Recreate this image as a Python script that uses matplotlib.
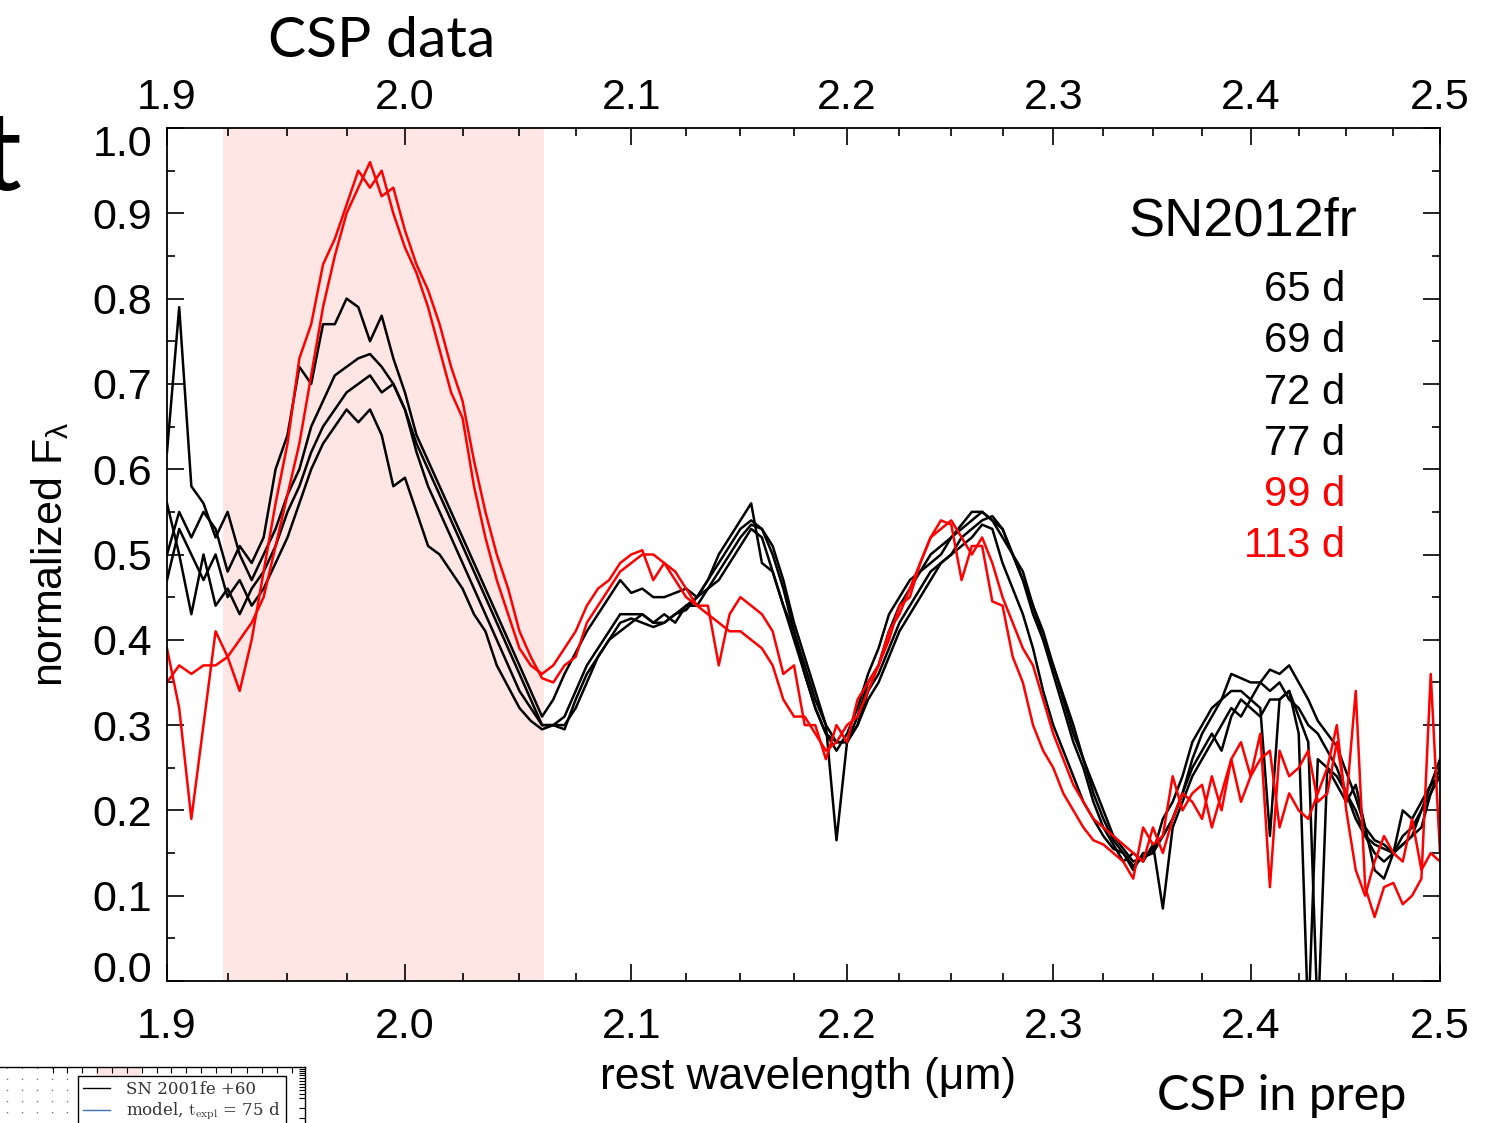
import matplotlib
matplotlib.use("Agg")
import matplotlib.pyplot as plt
from matplotlib.ticker import FixedLocator, FixedFormatter, NullFormatter, NullLocator
from matplotlib.transforms import ScaledTranslation
from matplotlib.lines import Line2D

# rest wavelength sampling (micron)
wave = [1.900, 1.905, 1.910, 1.915, 1.920, 1.925, 1.930, 1.935, 1.940, 1.945,
        1.950, 1.955, 1.960, 1.965, 1.970, 1.975, 1.980, 1.985, 1.990, 1.995,
        2.000, 2.005, 2.010, 2.015, 2.020, 2.025, 2.030, 2.035, 2.040, 2.045,
        2.050, 2.055, 2.060, 2.065, 2.070, 2.075, 2.080, 2.085, 2.090, 2.095,
        2.100, 2.105, 2.110, 2.115, 2.120, 2.125, 2.130, 2.135, 2.140, 2.145,
        2.150, 2.155, 2.160, 2.165, 2.170, 2.175, 2.180, 2.185, 2.190, 2.195,
        2.200, 2.205, 2.210, 2.215, 2.220, 2.225, 2.230, 2.235, 2.240, 2.245,
        2.250, 2.255, 2.260, 2.265, 2.270, 2.275, 2.280, 2.285, 2.290, 2.295,
        2.300, 2.305, 2.310, 2.315, 2.320, 2.325, 2.330, 2.335, 2.340, 2.345,
        2.350, 2.355, 2.360, 2.365, 2.370, 2.375, 2.380, 2.385, 2.390, 2.395,
        2.400, 2.405, 2.410, 2.415, 2.420, 2.425, 2.430, 2.435, 2.440, 2.445,
        2.450, 2.455, 2.460, 2.465, 2.470, 2.475, 2.480, 2.485, 2.490, 2.495,
        2.500]

# normalized F_lambda
flux_65 = [0.47, 0.53, 0.50, 0.47, 0.50, 0.45, 0.47, 0.44, 0.46, 0.49,
           0.52, 0.56, 0.60, 0.63, 0.65, 0.67, 0.655, 0.67, 0.64, 0.58,
           0.59, 0.55, 0.51, 0.50, 0.48, 0.46, 0.43, 0.41, 0.37, 0.345,
           0.32, 0.305, 0.295, 0.30, 0.30, 0.32, 0.35, 0.38, 0.40, 0.41,
           0.42, 0.43, 0.42, 0.43, 0.42, 0.44, 0.44, 0.46, 0.47, 0.49,
           0.51, 0.53, 0.52, 0.48, 0.44, 0.40, 0.36, 0.32, 0.29, 0.28,
           0.28, 0.30, 0.33, 0.35, 0.38, 0.41, 0.43, 0.45, 0.47, 0.49,
           0.50, 0.51, 0.52, 0.535, 0.53, 0.49, 0.46, 0.43, 0.39, 0.34,
           0.30, 0.27, 0.24, 0.21, 0.19, 0.17, 0.155, 0.15, 0.13, 0.15,
           0.15, 0.17, 0.19, 0.22, 0.26, 0.29, 0.31, 0.33, 0.34, 0.34,
           0.33, 0.35, 0.34, 0.35, 0.33, 0.32, 0.30, 0.29, 0.27, 0.25,
           0.22, 0.19, 0.17, 0.16, 0.155, 0.15, 0.16, 0.17, 0.20, 0.23,
           0.26]
flux_69 = [0.56, 0.50, 0.43, 0.50, 0.44, 0.46, 0.43, 0.46, 0.48, 0.51,
           0.55, 0.58, 0.62, 0.65, 0.67, 0.69, 0.70, 0.71, 0.69, 0.70,
           0.67, 0.62, 0.58, 0.55, 0.52, 0.49, 0.46, 0.43, 0.40, 0.37,
           0.34, 0.32, 0.30, 0.30, 0.295, 0.33, 0.36, 0.38, 0.40, 0.42,
           0.425, 0.42, 0.415, 0.42, 0.43, 0.435, 0.45, 0.46, 0.48, 0.50,
           0.52, 0.535, 0.53, 0.51, 0.47, 0.42, 0.38, 0.34, 0.30, 0.165,
           0.28, 0.30, 0.34, 0.36, 0.39, 0.42, 0.44, 0.46, 0.48, 0.49,
           0.50, 0.52, 0.53, 0.54, 0.545, 0.53, 0.50, 0.48, 0.44, 0.40,
           0.36, 0.32, 0.28, 0.25, 0.21, 0.18, 0.16, 0.14, 0.15, 0.14,
           0.16, 0.085, 0.18, 0.21, 0.24, 0.26, 0.28, 0.30, 0.32, 0.31,
           0.33, 0.32, 0.17, 0.33, 0.34, 0.29, -0.05, 0.26, 0.25, 0.24,
           0.22, 0.20, 0.17, 0.15, 0.14, 0.15, 0.17, 0.18, 0.20, 0.22,
           0.24]
flux_72 = [0.62, 0.79, 0.58, 0.56, 0.52, 0.55, 0.50, 0.47, 0.50, 0.53,
           0.57, 0.60, 0.65, 0.68, 0.71, 0.72, 0.73, 0.735, 0.72, 0.70,
           0.67, 0.63, 0.60, 0.57, 0.54, 0.51, 0.48, 0.45, 0.42, 0.39,
           0.36, 0.33, 0.30, 0.30, 0.31, 0.34, 0.37, 0.39, 0.41, 0.43,
           0.43, 0.43, 0.42, 0.42, 0.43, 0.44, 0.45, 0.47, 0.49, 0.51,
           0.53, 0.54, 0.53, 0.50, 0.46, 0.41, 0.37, 0.33, 0.30, 0.28,
           0.28, 0.31, 0.35, 0.37, 0.41, 0.44, 0.46, 0.48, 0.49, 0.50,
           0.52, 0.53, 0.54, 0.55, 0.54, 0.53, 0.50, 0.47, 0.44, 0.41,
           0.37, 0.335, 0.30, 0.26, 0.23, 0.20, 0.17, 0.155, 0.14, 0.145,
           0.155, 0.17, 0.19, 0.22, 0.25, 0.27, 0.29, 0.27, 0.31, 0.33,
           0.32, 0.31, 0.33, 0.33, 0.34, 0.31, 0.28, -0.05, 0.25, 0.23,
           0.21, 0.23, 0.18, 0.13, 0.12, 0.15, 0.20, 0.19, 0.21, 0.23,
           0.24]
flux_77 = [0.50, 0.55, 0.52, 0.55, 0.53, 0.48, 0.51, 0.49, 0.52, 0.60,
           0.64, 0.72, 0.70, 0.77, 0.77, 0.80, 0.79, 0.75, 0.78, 0.73,
           0.69, 0.64, 0.61, 0.58, 0.55, 0.52, 0.49, 0.46, 0.43, 0.40,
           0.37, 0.34, 0.31, 0.33, 0.36, 0.385, 0.41, 0.43, 0.45, 0.47,
           0.455, 0.46, 0.45, 0.45, 0.455, 0.46, 0.45, 0.47, 0.50, 0.52,
           0.54, 0.56, 0.49, 0.48, 0.44, 0.41, 0.36, 0.32, 0.29, 0.27,
           0.29, 0.32, 0.36, 0.39, 0.43, 0.45, 0.47, 0.48, 0.50, 0.51,
           0.52, 0.535, 0.55, 0.55, 0.54, 0.52, 0.50, 0.47, 0.43, 0.40,
           0.37, 0.33, 0.29, 0.26, 0.22, 0.19, 0.165, 0.15, 0.135, 0.145,
           0.15, 0.19, 0.21, 0.24, 0.28, 0.30, 0.32, 0.33, 0.36, 0.355,
           0.35, 0.35, 0.365, 0.36, 0.37, 0.35, 0.33, 0.305, 0.29, 0.275,
           0.245, 0.215, 0.18, 0.165, 0.16, 0.15, 0.16, 0.17, 0.18, 0.22,
           0.25]
flux_99 = [0.39, 0.32, 0.19, 0.30, 0.41, 0.38, 0.34, 0.40, 0.48, 0.56,
           0.63, 0.73, 0.77, 0.84, 0.87, 0.91, 0.95, 0.93, 0.95, 0.90,
           0.86, 0.83, 0.79, 0.74, 0.69, 0.66, 0.58, 0.52, 0.47, 0.43,
           0.39, 0.37, 0.36, 0.37, 0.39, 0.41, 0.44, 0.46, 0.47, 0.49,
           0.50, 0.505, 0.47, 0.49, 0.48, 0.46, 0.44, 0.44, 0.37, 0.43,
           0.45, 0.44, 0.43, 0.41, 0.36, 0.37, 0.30, 0.30, 0.26, 0.30,
           0.28, 0.33, 0.35, 0.37, 0.40, 0.44, 0.45, 0.49, 0.52, 0.54,
           0.535, 0.47, 0.51, 0.51, 0.445, 0.44, 0.38, 0.35, 0.30, 0.27,
           0.25, 0.22, 0.20, 0.18, 0.165, 0.16, 0.15, 0.14, 0.12, 0.18,
           0.16, 0.17, 0.24, 0.20, 0.22, 0.23, 0.18, 0.22, 0.26, 0.28,
           0.24, 0.29, 0.11, 0.27, 0.24, 0.25, 0.27, 0.21, 0.22, 0.28,
           0.21, 0.34, 0.11, 0.075, 0.11, 0.115, 0.09, 0.10, 0.12, 0.36,
           0.15]
flux_113 = [0.35, 0.37, 0.36, 0.37, 0.37, 0.38, 0.40, 0.42, 0.45, 0.51,
            0.57, 0.63, 0.71, 0.79, 0.85, 0.90, 0.93, 0.96, 0.92, 0.93,
            0.88, 0.84, 0.81, 0.77, 0.72, 0.68, 0.61, 0.55, 0.50, 0.46,
            0.41, 0.38, 0.355, 0.35, 0.37, 0.38, 0.42, 0.44, 0.46, 0.48,
            0.49, 0.50, 0.50, 0.49, 0.47, 0.45, 0.44, 0.43, 0.42, 0.41,
            0.41, 0.40, 0.39, 0.37, 0.33, 0.31, 0.31, 0.29, 0.27, 0.28,
            0.30, 0.31, 0.34, 0.37, 0.41, 0.43, 0.46, 0.49, 0.52, 0.53,
            0.54, 0.52, 0.50, 0.52, 0.49, 0.45, 0.42, 0.39, 0.37, 0.33,
            0.29, 0.26, 0.23, 0.21, 0.19, 0.18, 0.17, 0.16, 0.15, 0.14,
            0.18, 0.15, 0.19, 0.22, 0.21, 0.19, 0.24, 0.20, 0.26, 0.21,
            0.24, 0.26, 0.27, 0.18, 0.22, 0.20, 0.19, 0.22, 0.25, 0.30,
            0.20, 0.13, 0.10, 0.14, 0.17, 0.15, 0.14, 0.19, 0.13, 0.15,
            0.14]

epochs = ["65 d", "69 d", "72 d", "77 d", "99 d", "113 d"]
spectra = [flux_65, flux_69, flux_72, flux_77, flux_99, flux_113]
colors = ["black", "black", "black", "black", "red", "red"]

band = (1.923, 2.061)
major_x = [1.9, 2.0, 2.1, 2.2, 2.3, 2.4, 2.5]
minor_x = [1.925, 1.95, 1.975, 2.025, 2.05, 2.075, 2.125, 2.15, 2.175,
           2.225, 2.25, 2.275, 2.325, 2.35, 2.375, 2.425, 2.45, 2.475]
major_y = [0.0, 0.1, 0.2, 0.3, 0.4, 0.5, 0.6, 0.7, 0.8, 0.9, 1.0]
minor_y = [0.05, 0.15, 0.25, 0.35, 0.45, 0.55, 0.65, 0.75, 0.85, 0.95]

plt.rcParams['font.family'] = ['Liberation Sans', 'DejaVu Sans']
plt.rcParams['mathtext.fontset'] = 'custom'
plt.rcParams['mathtext.rm'] = 'Liberation Sans'
plt.rcParams['mathtext.it'] = 'Liberation Sans:italic'
plt.rcParams['mathtext.default'] = 'rm'

W, H = 1502, 1123
fig = plt.figure(figsize=(W / 100, H / 100), dpi=100)
ax = fig.add_axes([167 / W, (H - 981) / H, 1273 / W, 853 / H])

ax.axvspan(band[0], band[1], color='#fde6e3', lw=0, zorder=0)
for flux, col in zip(spectra, colors):
    ax.plot(wave, flux, color=col, lw=1.8, zorder=2)

ax.set_xscale('log')
ax.set_xlim(1.9, 2.5)
ax.set_ylim(0, 1)

# top tick labels on a twin axis
axt = ax.twiny()
axt.set_xscale('log')
axt.set_xlim(1.9, 2.5)
axt.xaxis.set_major_locator(FixedLocator(major_x))
axt.xaxis.set_major_formatter(FixedFormatter([f"{v:.1f}" for v in major_x]))
axt.xaxis.set_minor_locator(NullLocator())
axt.xaxis.set_minor_formatter(NullFormatter())
axt.tick_params(axis='x', length=0, labelsize=31, pad=7)
for s in axt.spines.values():
    s.set_visible(False)

ax.xaxis.set_major_locator(FixedLocator(major_x))
ax.xaxis.set_minor_locator(FixedLocator(minor_x))
ax.xaxis.set_major_formatter(FixedFormatter([f"{v:.1f}" for v in major_x]))
ax.xaxis.set_minor_formatter(NullFormatter())
ax.yaxis.set_major_locator(FixedLocator(major_y))
ax.yaxis.set_minor_locator(FixedLocator(minor_y))
ax.yaxis.set_major_formatter(FixedFormatter([f"{v:.1f}" for v in major_y]))

ax.tick_params(axis='both', which='both', direction='in', top=True, right=True,
               width=1.2, labelsize=31)
ax.tick_params(which='major', length=12)
ax.tick_params(which='minor', length=6)
ax.tick_params(axis='x', pad=19)
ax.tick_params(axis='y', pad=10.5)
for s in ax.spines.values():
    s.set_linewidth(1.3)

# end labels of the y axis pulled inside the frame
yt = ax.yaxis.get_major_ticks()
yt[0].label1.set_transform(yt[0].label1.get_transform() +
                           ScaledTranslation(0, 15 / 100, fig.dpi_scale_trans))
yt[-1].label1.set_transform(yt[-1].label1.get_transform() +
                            ScaledTranslation(0, -13 / 100, fig.dpi_scale_trans))

ax.set_xlabel("rest wavelength (\u03bcm)", fontsize=32)
ax.xaxis.set_label_coords(0.5035, -0.089)
ax.set_ylabel(r"normalized F$_\lambda$", fontsize=31)
ax.yaxis.set_label_coords(-0.075, 0.5)

ax.text(0.9348, 0.8734, "SN2012fr", transform=ax.transAxes, ha='right',
        va='baseline', fontsize=39)
label_y = [0.7972, 0.7374, 0.677, 0.6166, 0.5569, 0.4971]
for txt, col, yy in zip(epochs, colors, label_y):
    ax.text(0.9254, yy, txt, transform=ax.transAxes, ha='right',
            va='baseline', fontsize=30, color=col)

# slide decorations around the plot
fig.text(268 / W, 1 - 57 / H, "CSP data", family=['Lato', 'DejaVu Sans'],
         fontsize=41, va='baseline', ha='left')
fig.text(1157 / W, 1 - 1110 / H, "CSP in prep", family=['Lato', 'DejaVu Sans'],
         fontsize=35, va='baseline', ha='left')
fig.text(-18 / W, 1 - 190 / H, "t", family=['Lato', 'DejaVu Sans'],
         fontsize=80, va='baseline', ha='left')

# fragment of a neighbouring figure, bottom left
frag = fig.add_axes([-50 / W, (H - 1160) / H, 355 / W, 93 / H])
frag.set_xlim(-50, 305)
frag.set_ylim(1160, 1067)
frag.axvspan(96, 141, color='#fde6e3', lw=0, zorder=0)
for gx in [7, 22, 37, 52, 67]:
    frag.axvline(gx, color='#777777', lw=1.0, ls=(0, (1, 7)), zorder=1)
frag.xaxis.set_major_locator(FixedLocator([53, 67, 82, 97, 112, 127, 142, 157,
                                           171, 186, 201, 216, 231, 247, 262,
                                           277, 292]))
frag.yaxis.set_major_locator(FixedLocator([1069, 1071, 1073, 1075, 1078, 1081,
                                           1084, 1087, 1090, 1094, 1098, 1108,
                                           1118]))
frag.tick_params(axis='both', direction='in', length=4, width=0.8,
                 top=True, bottom=False, left=False, right=True,
                 labeltop=False, labelbottom=False, labelleft=False,
                 labelright=False)
frag.spines['left'].set_visible(False)
frag.spines['bottom'].set_visible(False)
frag.spines['top'].set_linewidth(1.0)
frag.spines['right'].set_linewidth(1.0)
handles = [Line2D([], [], color='black', lw=1.0),
           Line2D([], [], color='#3b6fb6', lw=1.0)]
leg = frag.legend(handles, ["SN 2001fe +60", r"model, $t_{expl}$ = 75 d"],
                  loc='upper left', bbox_to_anchor=(78 / W, 1 - 1076 / H),
                  bbox_transform=fig.transFigure, borderaxespad=0,
                  prop={'family': 'DejaVu Serif', 'size': 12},
                  handlelength=1.6, handletextpad=1.0, labelspacing=0.15,
                  borderpad=0.3, fancybox=False, framealpha=1,
                  edgecolor='black')
leg.get_frame().set_linewidth(1.0)
for t in leg.get_texts():
    t.set_math_fontfamily('cm')
    t.set_color('#333333')

fig.savefig("out.png", dpi=100)
